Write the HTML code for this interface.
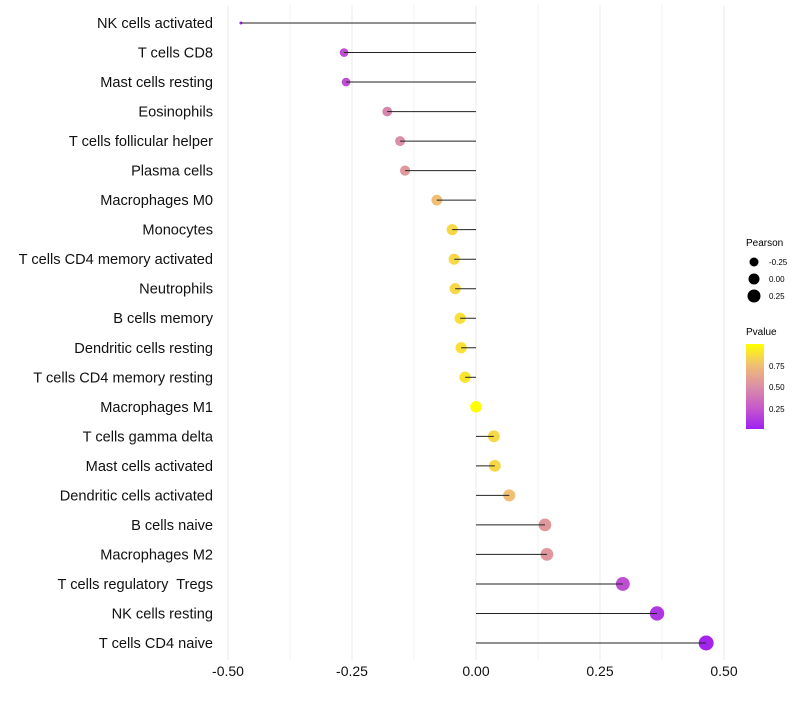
<!DOCTYPE html>
<html><head><meta charset="utf-8"><style>
body{margin:0;background:#fff;font-family:"Liberation Sans",sans-serif}
</style></head><body>
<svg id="chart" width="800" height="700" xmlns="http://www.w3.org/2000/svg" font-family="Liberation Sans, sans-serif">
<defs><linearGradient id="pg" x1="0" y1="1" x2="0" y2="0">
<stop offset="0" stop-color="#A020F0"/><stop offset="0.25" stop-color="#C65ACB"/><stop offset="0.5" stop-color="#DB8FA6"/><stop offset="0.75" stop-color="#F0BE74"/><stop offset="1" stop-color="#FFFF00"/>
</linearGradient></defs>
<g id="grid"></g><g id="points"></g><g id="marks"></g><g id="labels"></g>
<g>
<text x="746" y="246" font-size="10">Pearson</text>
<circle cx="754" cy="262" r="4.5" fill="#000"/><text x="769" y="265" font-size="8">-0.25</text>
<circle cx="754" cy="279" r="5.5" fill="#000"/><text x="769" y="282" font-size="8">0.00</text>
<circle cx="754" cy="296" r="6.5" fill="#000"/><text x="769" y="299" font-size="8">0.25</text>
<text x="746" y="335" font-size="10">Pvalue</text>
<rect x="746" y="344" width="18" height="85" fill="url(#pg)"/>
<text x="769" y="369" font-size="8">0.75</text><text x="769" y="390" font-size="8">0.50</text><text x="769" y="412" font-size="8">0.25</text>
</g>
</svg>
<script>
const cells=["NK cells activated","T cells CD8","Mast cells resting","Eosinophils","T cells follicular helper","Plasma cells","Macrophages M0","Monocytes","T cells CD4 memory activated","Neutrophils","B cells memory","Dendritic cells resting","T cells CD4 memory resting","Macrophages M1","T cells gamma delta","Mast cells activated","Dendritic cells activated","B cells naive","Macrophages M2","T cells regulatory  Tregs","NK cells resting","T cells CD4 naive"];
const pearson=[-0.474,-0.266,-0.262,-0.179,-0.153,-0.143,-0.079,-0.048,-0.044,-0.042,-0.032,-0.030,-0.022,0.000,0.036,0.038,0.067,0.139,0.143,0.296,0.365,0.464];
const pvalue=[0.03,0.2,0.2,0.45,0.5,0.55,0.75,0.85,0.85,0.85,0.88,0.88,0.9,1.0,0.85,0.85,0.75,0.55,0.55,0.2,0.1,0.02];
const xTicks=[-0.5,-0.25,0,0.25,0.5];
const xTickLabels=["-0.50","-0.25","0.00","0.25","0.50"];
const NS="http://www.w3.org/2000/svg";
const X=v=>476+v*496, Y=i=>23+i*(620/21);
function mk(t,a,p){const e=document.createElementNS(NS,t);for(const k in a)e.setAttribute(k,a[k]);p.appendChild(e);return e;}
const stops=[[0,[160,32,240]],[0.25,[198,90,203]],[0.5,[219,143,166]],[0.75,[240,190,116]],[1,[255,255,0]]];
function col(p){p=Math.max(0,Math.min(1,p));for(let i=1;i<stops.length;i++){if(p<=stops[i][0]){const a=stops[i-1],b=stops[i],t=(p-a[0])/(b[0]-a[0]);return "rgb("+a[1].map((c,j)=>Math.round(c+(b[1][j]-c)*t)).join(",")+")";}}return "rgb(255,255,0)";}
const mn=Math.min(...pearson),mx=Math.max(...pearson);
const R=v=>1.5+6*Math.sqrt((v-mn)/(mx-mn));
const g=document.getElementById('grid'),m=document.getElementById('marks'),pts=document.getElementById('points'),l=document.getElementById('labels');
for(let v=-0.5;v<=0.5001;v+=0.125){const gl=mk('line',{x1:X(v),x2:X(v),y1:5,y2:660,stroke:'#ebebeb','stroke-width':Math.abs(v*4-Math.round(v*4))<1e-6?1:0.6},g);

}
xTicks.forEach((v,i)=>{const t=mk('text',{x:X(v),y:676,'font-size':14,'text-anchor':'middle',fill:'#111'},l);t.textContent=xTickLabels[i];

});
cells.forEach((c,i)=>{
const t=mk('text',{x:213,y:Y(i)+5,'font-size':14.6,'text-anchor':'end',fill:'#111',style:'white-space:pre'},l);t.textContent=c;


const ln=mk('line',{x1:X(0),x2:X(pearson[i]),y1:Y(i),y2:Y(i),stroke:'#222','stroke-width':1},m);


const ci=mk('circle',{cx:X(pearson[i]),cy:Y(i),r:R(pearson[i]),fill:col(pvalue[i])},pts);


});
</script>
</body></html>
